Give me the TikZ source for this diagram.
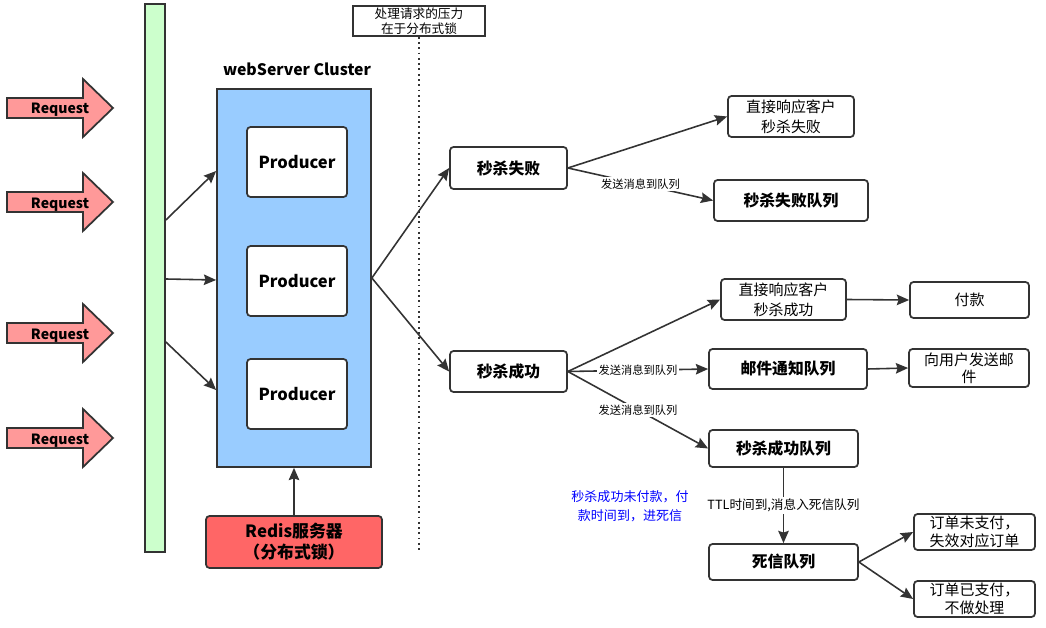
\documentclass[tikz,border=0pt]{standalone}
\usepackage{fontspec}
\setmainfont{Noto Sans CJK SC}
\usepackage{xcolor}
\usetikzlibrary{arrows.meta}
\definecolor{lineC}{HTML}{333333}
\definecolor{reqC}{HTML}{FF9999}
\definecolor{gateC}{HTML}{CCFFCC}
\definecolor{clusterC}{HTML}{99CCFF}
\definecolor{redisC}{HTML}{FF6666}

\begin{document}
\begin{tikzpicture}[x=0.02cm, y=-0.02cm,
% common options for boxes:
box/.style = {draw=lineC, rounded corners=2pt, line width=1pt, fill=white, align=center,
            inner sep=0, font=\fontsize{8.5}{11.5}\selectfont},
bbox/.style = {box, font=\bfseries\fontsize{9}{11}\selectfont},
% common options for the connectors:
link/.style = {draw=lineC, line width=0.9pt, -{Stealth[length=7pt,width=6pt,inset=1pt]}},
lbl/.style = {fill=white, inner sep=1pt, font=\fontsize{6.4}{7}\selectfont},
reqarrow/.style = {draw=lineC, line width=1pt, fill=reqC}]
\useasboundingbox (0,0) rectangle (1046,628);
% incoming requests
\draw[reqarrow, shift={(0,108)}] (7,-10) -- (83,-10) -- (83,-29) -- (113,0) -- (83,29) -- (83,10) -- (7,10) -- cycle;
\draw[reqarrow, shift={(0,202)}] (7,-10) -- (83,-10) -- (83,-29) -- (113,0) -- (83,29) -- (83,10) -- (7,10) -- cycle;
\draw[reqarrow, shift={(0,333)}] (7,-10) -- (83,-10) -- (83,-29) -- (113,0) -- (83,29) -- (83,10) -- (7,10) -- cycle;
\draw[reqarrow, shift={(0,438)}] (7,-10) -- (83,-10) -- (83,-29) -- (113,0) -- (83,29) -- (83,10) -- (7,10) -- cycle;
\node[font=\bfseries\fontsize{8}{10}\selectfont] (R1) at (60,110) {Request};
\node[font=\bfseries\fontsize{8}{10}\selectfont] (R2) at (60,205) {Request};
\node[font=\bfseries\fontsize{8}{10}\selectfont] (R3) at (60,336) {Request};
\node[font=\bfseries\fontsize{8}{10}\selectfont] (R4) at (60,441) {Request};
% gateway bar and cluster
\node[draw=lineC, line width=1pt, fill=gateC, minimum width=0.4cm, minimum height=10.96cm, inner sep=0] (G) at (155,278) {};
\node[draw=lineC, line width=1pt, fill=clusterC, minimum width=3.08cm, minimum height=7.56cm, inner sep=0] (C) at (294,278) {};
\node[font=\bfseries\fontsize{9}{11}\selectfont] (CT) at (297,69) {webServer Cluster};
\node[bbox, minimum width=2.0cm, minimum height=1.4cm, font=\bfseries\fontsize{9.4}{11}\selectfont] (P1) at (297,162) {Producer};
\node[bbox, minimum width=2.0cm, minimum height=1.4cm, font=\bfseries\fontsize{9.4}{11}\selectfont] (P2) at (297,281) {Producer};
\node[bbox, minimum width=2.0cm, minimum height=1.4cm, font=\bfseries\fontsize{9.4}{11}\selectfont] (P3) at (297,394) {Producer};
\node[bbox, fill=redisC, minimum width=3.52cm, minimum height=1.04cm, font=\bfseries\fontsize{9.6}{12}\selectfont] (RD) at (294,542) {Redis服务器\\（分布式锁）};
\node[draw=lineC, line width=1pt, minimum width=2.64cm, minimum height=0.6cm, inner sep=0, align=center,
      font=\fontsize{7.2}{8.5}\selectfont] (N) at (419,21) {处理请求的压力\\在于分布式锁};
\coordinate (Nend) at (419,552);
\draw[lineC, line width=1pt, dotted] (N.south) -- (Nend);
% results
\node[bbox, minimum width=2.34cm, minimum height=0.84cm] (F) at (508.5,168) {秒杀失败};
\node[bbox, minimum width=2.34cm, minimum height=0.82cm] (S) at (508.5,371.5) {秒杀成功};
\node[box, minimum width=2.52cm, minimum height=0.82cm] (FR) at (791,116.5) {直接响应客户\\秒杀失败};
\node[bbox, minimum width=3.08cm, minimum height=0.82cm] (FQ) at (791,200.5) {秒杀失败队列};
\node[box, minimum width=2.5cm, minimum height=0.82cm] (SR) at (783.5,299.5) {直接响应客户\\秒杀成功};
\node[box, minimum width=2.38cm, minimum height=0.72cm] (Pay) at (969.5,300) {付款};
\node[bbox, minimum width=3.16cm, minimum height=0.8cm] (MQ) at (788,369) {邮件通知队列};
\node[box, minimum width=2.4cm, minimum height=0.76cm, font=\fontsize{8.5}{9.5}\selectfont] (Mail) at (969,368) {向用户发送邮\\件};
\node[bbox, minimum width=2.98cm, minimum height=0.74cm] (SQ) at (783.5,448.5) {秒杀成功队列};
\node[bbox, minimum width=2.98cm, minimum height=0.72cm] (DQ) at (783.5,562) {死信队列};
\node[box, minimum width=2.42cm, minimum height=0.72cm, font=\fontsize{8.5}{10}\selectfont] (U) at (974.5,532) {订单未支付，\\失效对应订单};
\node[box, minimum width=2.42cm, minimum height=0.72cm, font=\fontsize{8.5}{10}\selectfont] (Paid) at (974.5,599) {订单已支付，\\不做处理};
\node[text=blue, align=center, font=\fontsize{7.4}{11}\selectfont] (BN) at (630,506) {秒杀成功未付款，付\\款时间到，进死信};
% connectors
\draw[link] (G.east |- 0,220) -- (C.west |- 0,171);
\draw[link] (G.east |- 0,279) -- (C.west |- 0,280);
\draw[link] (G.east |- 0,342) -- (C.west |- 0,390);
\draw[link] (RD.north) -- (C.south);
\draw[link] (C.east) -- (F.west);
\draw[link] (C.east) -- (S.west);
\draw[link] (F.east) -- (FR.west);
\draw[link] (F.east) -- node[lbl, pos=0.5] {发送消息到队列} (FQ.west);
\draw[link] (S.east) -- (SR.west);
\draw[link] (S.east) -- node[lbl, pos=0.5] {发送消息到队列} (MQ.west);
\draw[link] (S.east) -- node[lbl, pos=0.5] {发送消息到队列} (SQ.west);
\draw[link] (SR.east) -- (Pay.west);
\draw[link] (MQ.east) -- (Mail.west);
\draw[link] (SQ.south) -- node[lbl, font=\fontsize{7.2}{8}\selectfont] {TTL时间到,消息入死信队列} (DQ.north);
\draw[link] (DQ.east) -- (U.west);
\draw[link] (DQ.east) -- (Paid.west);
\end{tikzpicture}
\end{document}
